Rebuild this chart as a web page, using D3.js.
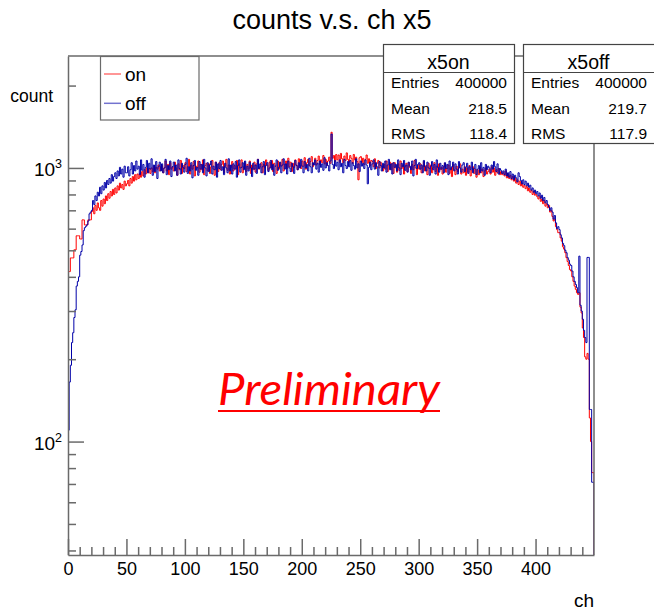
<!DOCTYPE html>
<html><head><meta charset="utf-8">
<script src="https://cdn.jsdelivr.net/npm/d3@7"></script>
<style>
body{margin:0;background:#fff}
svg{display:block}
text{font-family:"Liberation Sans",Arial,Helvetica,sans-serif;fill:#000}
</style>
</head><body>
<svg id="c" width="654" height="611"></svg>
<script>
const chartTitle = "counts v.s. ch x5";
const xTitle = "ch";
const yTitle = "count";
const xTickLabels = [0, 50, 100, 150, 200, 250, 300, 350, 400];
const yTickLabels = [100, 1000];
const seriesNames = ["on", "off"];
const statNames = ["Entries", "Mean", "RMS"];
const statsOn = ["400000", "218.5", "118.4"];
const statsOff = ["400000", "219.7", "117.9"];
const histNames = ["x5on", "x5off"];

// counts per channel bin (450 bins, ch 0..450), series "on"
const countsOn = [
418,418,469,469,469,502,502,565,565,565,
550,550,646,646,619,619,619,646,646,646,
693,715,680,730,700,745,715,700,760,725,
770,740,790,760,805,775,820,790,835,800,
845,810,860,830,880,845,870,835,895,860,
875,900,860,915,880,930,895,945,905,950,
915,955,925,970,935,985,950,1000,960,995,
955,1000,970,1015,960,1005,990,1025,975,1010,
1020,960,1000,1060,975,1030,945,1045,990,1010,
975,1050,1000,940,1035,985,1065,955,1020,995,
1045,970,1010,1075,950,1025,990,1055,935,1015,
1000,1060,965,1030,985,1070,945,1020,1040,975,
1035,955,1010,1065,990,940,1050,1000,970,1045,
985,1030,1060,960,1015,1075,980,1025,950,1005,
1055,975,1020,990,1065,945,1035,1000,1070,960,
1010,1045,970,1030,990,1060,955,1025,985,1050,
965,1035,1075,990,1010,1045,960,1030,1000,1070,
1025,980,1050,1000,1065,970,1040,1015,955,1060,
990,1045,1015,1075,975,1030,1060,995,1085,1010,
1050,970,1040,1005,1070,1025,985,1080,1020,995,
1060,1015,1090,990,1045,1075,1020,1055,1100,1010,
1040,1085,1025,1065,1105,1030,1070,1045,1110,1035,
1075,1020,1060,1095,1040,1350,1085,1110,1055,1120,
1070,1115,1050,1130,1080,1045,1105,1065,1135,1075,
1050,1110,1085,1040,1120,1070,1095,1055,905,1090,
1100,1045,1085,1030,1075,1115,1040,1080,1020,1065,
1055,1010,1080,995,1040,1065,1000,1050,1015,975,
1030,990,1060,970,1020,1050,985,1040,955,1045,
1000,965,1035,980,1060,995,1025,950,1010,1040,
970,1045,1005,955,1030,985,1065,1000,945,1025,
990,1035,960,1010,1055,975,1020,945,1040,995,
1025,960,1000,1045,970,1015,940,1035,985,1005,
950,1010,1040,965,995,1025,955,1000,930,1030,
985,945,1015,970,1000,1035,950,990,960,1010,
940,1000,965,1020,935,980,1010,955,990,925,
985,945,1005,960,990,930,975,1000,950,970,
990,950,1010,965,1000,940,985,960,995,945,
970,945,960,935,975,920,950,915,940,905,
930,895,920,880,905,870,895,860,880,850,
865,840,855,825,845,815,830,800,820,795,
800,785,770,790,755,770,740,760,725,740,
715,730,690,700,665,640,650,610,595,580,
580,555,540,515,505,490,470,455,440,425,
420,400,385,370,360,350,345,350,310,295,
260,240,204,200,210,200,122,100,77,77
];

// counts per channel bin, series "off"
const countsOff = [
110,165,190,230,250,284,303,370,385,400,
480,495,523,590,605,612,620,640,680,690,
700,760,735,790,760,815,790,850,805,860,
830,885,845,900,870,915,880,945,895,930,
960,915,975,935,1005,950,990,925,1015,960,
960,1010,935,985,1045,950,1020,975,1060,990,
1015,945,1070,980,1030,925,1005,1065,960,1040,
990,1080,940,1025,970,1055,915,1010,1050,975,
1035,960,1000,1075,945,1020,985,1060,930,1010,
1050,975,1025,940,1070,995,950,1040,1005,965,
1030,1085,955,1010,975,1045,920,1020,1065,980,
1005,940,1055,990,1030,960,1075,1000,935,1045,
970,1025,1060,950,1015,985,1050,925,1035,995,
1065,980,1010,945,1040,1000,960,1080,975,1025,
950,1035,990,1055,925,1020,1070,965,1005,1045,
985,1060,940,1015,975,1050,1000,930,1040,990,
1025,955,1075,995,1035,960,1010,1055,945,1020,
1045,970,1000,1065,985,1030,940,1015,1070,980,
1005,1050,960,1025,1080,990,1035,950,1060,1000,
970,1040,1010,955,1065,1020,985,1045,1000,1075,
1015,960,1055,1000,1030,975,1085,1010,960,1045,
1025,1070,990,1040,965,1060,1005,1035,980,1090,
1000,1045,1020,975,1060,1330,1030,995,1065,1015,
1050,985,1070,1010,1040,960,1075,1020,995,1055,
1010,1065,980,1045,1020,990,1080,1000,1035,970,
1060,1015,1040,995,1070,1025,875,1005,1050,985,
1035,1070,990,1045,1010,940,1055,1020,975,1040,
1000,1060,965,1025,1075,985,1035,950,1045,1005,
1030,975,1070,1000,945,1040,1010,1065,980,1025,
965,1050,1015,985,1060,935,1020,1075,995,1030,
1045,990,1025,960,1065,1010,975,1050,1000,940,
1015,1055,985,1030,950,1070,1005,965,1040,990,
1020,960,1045,995,1030,945,1060,985,1010,1050,
975,1035,990,950,1055,1000,965,1025,1045,970,
1005,1040,955,1010,985,1050,960,995,1030,945,
990,1020,960,1045,975,1005,940,1030,985,1015,
1000,960,1025,990,1055,1010,970,1035,950,995,
980,955,975,945,990,935,960,925,970,915,
950,905,940,920,890,960,930,900,875,905,
870,895,860,880,850,865,830,845,815,830,
805,820,790,810,775,795,760,780,745,760,
735,720,700,715,690,650,670,630,600,610,
595,570,555,530,520,500,490,470,460,445,
440,420,400,385,375,365,350,476,315,300,
280,255,240,230,471,471,131,131,71,71
];

const colorOn = "#ff0000";
const colorOff = "#0000a8";
const axisColor = "#6a6a6a";

const svg = d3.select("#c");
const W = 654, H = 611;
const pLeft = 68, pRight = 594, pTop = 56, pBottom = 555;
const xMax = 450, yMin = 38.5, yMax = 2565;

const x = d3.scaleLinear().domain([0, xMax]).range([pLeft, pRight]);
const y = d3.scaleLog().domain([yMin, yMax]).range([pBottom, pTop]);

svg.append("rect").attr("width", W).attr("height", H).attr("fill", "#fff");

svg.append("defs").append("clipPath").attr("id", "clip")
  .append("rect").attr("x", pLeft).attr("y", pTop).attr("width", pRight - pLeft).attr("height", pBottom - pTop);

// histograms
function stepPoints(arr) {
  const w = xMax / arr.length;
  const pts = [[0, yMin]];
  arr.forEach((v, i) => { pts.push([i * w, v]); pts.push([(i + 1) * w, v]); });
  pts.push([xMax, yMin]);
  return pts;
}
const line = d3.line().x(d => x(d[0])).y(d => y(Math.max(d[1], yMin)));
const plot = svg.append("g").attr("clip-path", "url(#clip)");
plot.append("path").attr("d", line(stepPoints(countsOn)))
  .attr("fill", "none").attr("stroke", colorOn).attr("stroke-width", 1);
plot.append("path").attr("d", line(stepPoints(countsOff)))
  .attr("fill", "none").attr("stroke", colorOff).attr("stroke-width", 1);

// frame (top + right)
svg.append("path")
  .attr("d", `M${pLeft},${pTop}H${pRight}V${pBottom}`)
  .attr("fill", "none").attr("stroke", axisColor).attr("stroke-width", 1.5);

// X axis
const xMinor = d3.range(10, 450, 10).filter(v => v % 50 !== 0);
const gxMinor = svg.append("g").attr("transform", `translate(0,${pBottom})`)
  .call(d3.axisBottom(x).tickValues(xMinor).tickSize(-8).tickFormat(""));
const gx = svg.append("g").attr("transform", `translate(0,${pBottom})`)
  .call(d3.axisBottom(x).tickValues(xTickLabels).tickSizeInner(-16).tickSizeOuter(0).tickPadding(7).tickFormat(d3.format("d")));
gxMinor.select(".domain").remove();

// Y axis
const yMinor = [40, 50, 60, 70, 80, 90, 200, 300, 400, 500, 600, 700, 800, 900, 2000];
const gyMinor = svg.append("g").attr("transform", `translate(${pLeft},0)`)
  .call(d3.axisLeft(y).tickValues(yMinor).tickSize(-8).tickFormat(""));
gyMinor.select(".domain").remove();
const gy = svg.append("g").attr("transform", `translate(${pLeft},0)`)
  .call(d3.axisLeft(y).tickValues(yTickLabels).tickSizeInner(-16).tickSizeOuter(0).tickPadding(6).tickFormat(d => String(d)));

[gx, gxMinor, gy, gyMinor].forEach(g => {
  g.selectAll("path,line").attr("stroke", axisColor).attr("stroke-width", 1.5);
  g.selectAll("text").attr("fill", "#000").style("font-size", "18px").style("font-family", '"Liberation Sans",Arial,sans-serif');
});
gx.selectAll(".tick text").attr("dy", "0.72em");

gy.selectAll(".tick text").each(function(d) {
  const t = d3.select(this);
  t.text(null).attr("dy", "0.4em").style("font-size", "19px");
  t.append("tspan").text("10");
  t.append("tspan").attr("dy", "-8").style("font-size", "12.5px").text(Math.round(Math.log10(d)));
});

// axis titles
svg.append("text").attr("x", pRight).attr("y", 607).attr("text-anchor", "end")
  .style("font-size", "19px").text(xTitle);
svg.append("text").attr("x", 53).attr("y", 102).attr("text-anchor", "end")
  .style("font-size", "17.5px").text(yTitle);

// title
svg.append("text").attr("x", 332).attr("y", 29).attr("text-anchor", "middle")
  .style("font-size", "27px").text(chartTitle);

// legend
const lg = svg.append("g");
lg.append("rect").attr("x", 100.5).attr("y", 56.5).attr("width", 98.5).attr("height", 63.5)
  .attr("fill", "#fff").attr("stroke", axisColor).attr("stroke-width", 1.2);
const legendColors = [colorOn, colorOff];
seriesNames.forEach((n, i) => {
  const yy = 74 + i * 29.3;
  lg.append("line").attr("x1", 104).attr("x2", 121).attr("y1", yy).attr("y2", yy)
    .attr("stroke", legendColors[i]).attr("stroke-opacity", 0.55).attr("stroke-width", 1.5);
  lg.append("text").attr("x", 125).attr("y", yy + 6.7).style("font-size", "19px").text(n);
});

// stats boxes
const boxes = [
  {x0: 383, x1: 514, name: histNames[0], vals: statsOn},
  {x0: 523, x1: 656, name: histNames[1], vals: statsOff}
];
boxes.forEach(b => {
  const g = svg.append("g");
  g.append("rect").attr("x", b.x0 + 0.5).attr("y", 44.5).attr("width", b.x1 - b.x0).attr("height", 99)
    .attr("fill", "#fff").attr("stroke", "#444").attr("stroke-width", 1.2);
  g.append("line").attr("x1", b.x0).attr("x2", b.x1).attr("y1", 72.5).attr("y2", 72.5)
    .attr("stroke", "#444").attr("stroke-width", 1.2);
  g.append("text").attr("x", b.x0 + 65.5).attr("y", 69).attr("text-anchor", "middle")
    .style("font-size", "19.5px").text(b.name);
  statNames.forEach((s, i) => {
    const yy = 88 + i * 25.5;
    g.append("text").attr("x", b.x0 + 8).attr("y", yy).style("font-size", "15.5px").text(s);
    g.append("text").attr("x", b.x0 + 124).attr("y", yy).attr("text-anchor", "end")
      .style("font-size", "15.5px").text(b.vals[i]);
  });
});

// Preliminary stamp
svg.append("text").attr("x", 218).attr("y", 405)
  .attr("textLength", 222).attr("lengthAdjust", "spacingAndGlyphs")
  .style("font-family", 'Lato,"Open Sans",sans-serif').style("font-style", "italic")
  .style("font-size", "44px").style("fill", "#ff0000").text("Preliminary");
svg.append("line").attr("x1", 218).attr("x2", 440).attr("y1", 411).attr("y2", 411)
  .attr("stroke", "#ff0000").attr("stroke-width", 2);
</script>
</body></html>
